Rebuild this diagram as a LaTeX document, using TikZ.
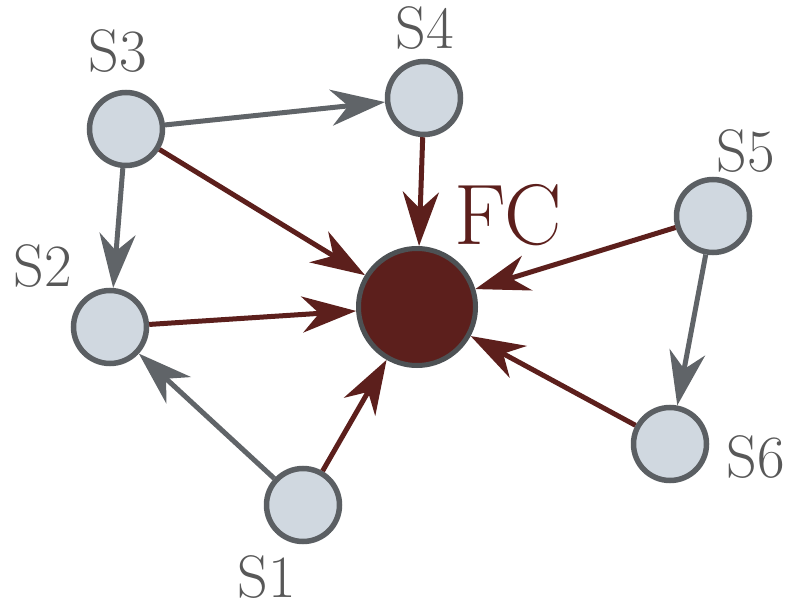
\documentclass[tikz,border=0pt]{standalone}
\usetikzlibrary{arrows.meta}
\definecolor{nodefill}{HTML}{D0D8E0}
\definecolor{rim}{HTML}{5B5F63}
\definecolor{edgegray}{HTML}{606468}
\definecolor{darkred}{HTML}{5C1F1C}
\definecolor{labelgray}{HTML}{585858}
\tikzset{
  snode/.style={circle, draw=rim, fill=nodefill, line width=5.5pt, minimum size=73pt, inner sep=0pt},
  fcnode/.style={circle, draw=rim!85!black, fill=darkred, line width=5pt, minimum size=117pt, inner sep=0pt},
  slabel/.style={text=labelgray, font=\fontsize{60}{60}\selectfont, inner sep=0pt},
  fclabel/.style={text=darkred, font=\fontsize{86}{86}\selectfont, inner sep=0pt},
  garrow/.style={draw=edgegray, line width=5pt, -{Stealth[length=54pt, width=36pt, inset=17pt, fill=edgegray]}},
  rarrow/.style={draw=darkred, line width=5pt, -{Stealth[length=54pt, width=36pt, inset=17pt, fill=darkred]}},
}
\begin{document}
\begin{tikzpicture}[x=1pt,y=-1pt]
\useasboundingbox (0,0) rectangle (789,609);
\node[fcnode] (fc) at (417,307) {};
\node[snode] (s1) at (303,505) {};
\node[snode] (s2) at (110,327) {};
\node[snode] (s3) at (126,129) {};
\node[snode] (s4) at (424,98) {};
\node[snode] (s5) at (713,216) {};
\node[snode] (s6) at (670,444) {};
\node[slabel] (l1) at (267,577) {S1};
\node[slabel] (l2) at (43,266) {S2};
\node[slabel] (l3) at (118,51) {S3};
\node[slabel] (l4) at (425,28) {S4};
\node[slabel] (l5) at (746,151) {S5};
\node[slabel] (l6) at (756,457) {S6};
\node[fclabel] (lfc) at (508,215) {FC};
\draw[garrow] (s3) -- (s4);
\draw[garrow] (s3) -- (s2);
\draw[garrow] (s1) -- (s2);
\draw[garrow] (s5) -- (s6);
\draw[rarrow] (s3) -- (fc);
\draw[rarrow] (s4) -- (fc);
\draw[rarrow] (s2) -- (fc);
\draw[rarrow] (s1) -- (fc);
\draw[rarrow] (s5) -- (fc);
\draw[rarrow] (s6) -- (fc);
\end{tikzpicture}
\end{document}
